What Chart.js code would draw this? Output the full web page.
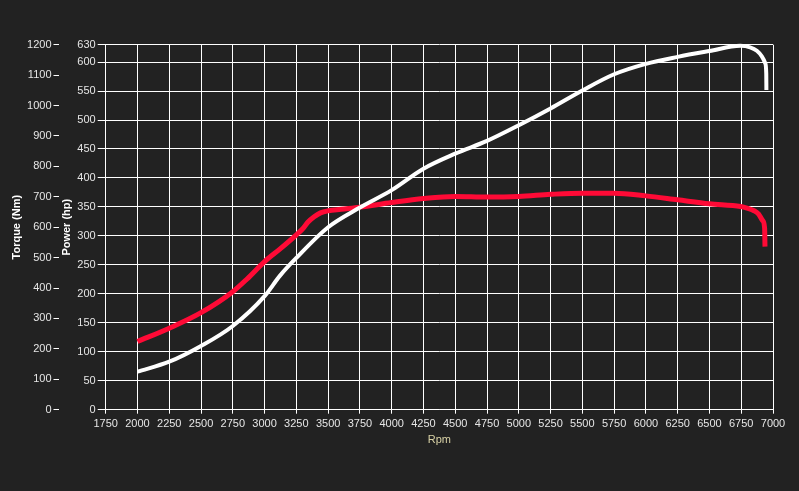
<!DOCTYPE html>
<html>
<head>
<meta charset="utf-8">
<title>Dyno</title>
<script src="https://cdn.jsdelivr.net/npm/chart.js@4"></script>
<style>
  html, body { margin: 0; padding: 0; background: #222222; }
  #wrap { width: 799px; height: 491px; position: relative; }
</style>
</head>
<body>
<div id="wrap"><canvas id="dynoChart"></canvas></div>
<script>
  // Values
  const torqueRpm = [2000, 2250, 2500, 2750, 2860, 3000, 3120, 3250, 3300, 3340, 3390, 3440, 3500, 3600, 3750, 4000, 4250, 4500, 4750, 5000, 5250, 5500, 5750, 6000, 6250, 6500, 6745, 6795, 6847, 6887, 6918, 6934, 6937];
  const torqueNm  = [224, 268, 319, 388, 429, 487, 528, 575, 595, 616, 634, 647, 654, 659, 666, 681, 694, 701, 699, 701, 708, 712, 712, 703, 690, 677, 668, 663, 655, 643, 622, 597, 536];

  const powerRpm = [2000, 2250, 2500, 2750, 3000, 3120, 3250, 3500, 3750, 4000, 4250, 4500, 4750, 5000, 5250, 5500, 5750, 6000, 6250, 6500, 6743, 6820, 6873, 6912, 6939, 6947, 6948];
  const powerHp  = [65.6, 82.8, 110, 144.5, 196, 231, 262, 315, 349, 379, 416, 442, 464, 491, 520, 551, 579, 597, 609, 619, 628, 625.5, 619.6, 610, 598, 580, 552];

  const rpmTicks = [1750, 2000, 2250, 2500, 2750, 3000, 3250, 3500, 3750, 4000, 4250, 4500, 4750, 5000, 5250, 5500, 5750, 6000, 6250, 6500, 6750, 7000];
  const torqueTicks = [0, 100, 200, 300, 400, 500, 600, 700, 800, 900, 1000, 1100, 1200];
  const powerTicks = [0, 50, 100, 150, 200, 250, 300, 350, 400, 450, 500, 550, 600, 630];

  const labelColor = '#e6e6e6';
  const fontFamily = "'Liberation Sans', Arial, sans-serif";

  // Build {x, y} points for a linear x axis
  function toPoints(xs, ys) {
    return xs.map((x, i) => ({ x: x, y: ys[i] }));
  }

  // Force the tick list of a scale
  function fixTicks(values) {
    return function (scale) {
      scale.ticks = values.map(v => ({ value: v }));
    };
  }

  const ctx = document.getElementById('dynoChart').getContext('2d');

  window.dynoChart = new Chart(ctx, {
    type: 'line',
    data: {
      datasets: [
        {
          label: 'Power (hp)',
          data: toPoints(powerRpm, powerHp),
          yAxisID: 'yPower',
          borderColor: '#ffffff',
          borderWidth: 4,
          pointRadius: 0,
          cubicInterpolationMode: 'monotone',
          fill: false,
          clip: false
        },
        {
          label: 'Torque (Nm)',
          data: toPoints(torqueRpm, torqueNm),
          yAxisID: 'yTorque',
          borderColor: '#ff0a36',
          borderWidth: 5,
          pointRadius: 0,
          cubicInterpolationMode: 'monotone',
          fill: false,
          clip: false
        }
      ]
    },
    options: {
      responsive: true,
      maintainAspectRatio: false,
      animation: false,
      layout: {
        padding: { top: 44.7, right: 26, bottom: 31.3, left: 0 }
      },
      plugins: {
        legend: { display: false },
        tooltip: { enabled: false }
      },
      scales: {
        x: {
          type: 'linear',
          position: 'bottom',
          min: 1750,
          max: 7000,
          afterBuildTicks: fixTicks(rpmTicks),
          afterFit: function (scale) { scale.height = 50; },
          grid: { color: '#ffffff', lineWidth: 1, tickLength: 4, tickColor: '#ffffff' },
          border: { color: '#ffffff', width: 1 },
          ticks: {
            color: labelColor,
            font: { family: fontFamily, size: 11 },
            padding: 4,
            maxRotation: 0,
            autoSkip: false,
            callback: v => String(v)
          },
          title: {
            display: true,
            text: 'Rpm',
            color: '#d9d2a6',
            font: { family: fontFamily, size: 11 },
            padding: { top: 0, bottom: 13 }
          }
        },
        yTorque: {
          type: 'linear',
          position: 'left',
          weight: 1,
          min: 0,
          max: 1200,
          afterBuildTicks: fixTicks(torqueTicks),
          afterFit: function (scale) { scale.width = 58.5; },
          grid: { drawOnChartArea: false, tickLength: 5, tickColor: '#ffffff', lineWidth: 1 },
          border: { display: false },
          ticks: {
            color: labelColor,
            font: { family: fontFamily, size: 11 },
            padding: 2,
            autoSkip: false,
            callback: v => String(v)
          },
          title: {
            display: true,
            text: 'Torque (Nm)',
            color: '#ffffff',
            font: { family: fontFamily, size: 11, weight: 'bold' },
            padding: { top: 10.7, bottom: 0 }
          }
        },
        yPower: {
          type: 'linear',
          position: 'left',
          weight: 0,
          min: 0,
          max: 630,
          afterBuildTicks: fixTicks(powerTicks),
          afterFit: function (scale) { scale.width = 47.2; },
          grid: { color: '#ffffff', lineWidth: 1, tickLength: 8, tickColor: '#ffffff' },
          border: { color: '#ffffff', width: 1 },
          ticks: {
            color: labelColor,
            font: { family: fontFamily, size: 11 },
            padding: 2,
            autoSkip: false,
            callback: v => String(v)
          },
          title: {
            display: true,
            text: 'Power (hp)',
            color: '#ffffff',
            font: { family: fontFamily, size: 11, weight: 'bold' },
            padding: { top: 2.2, bottom: 0 }
          }
        }
      }
    }
  });
</script>
</body>
</html>
